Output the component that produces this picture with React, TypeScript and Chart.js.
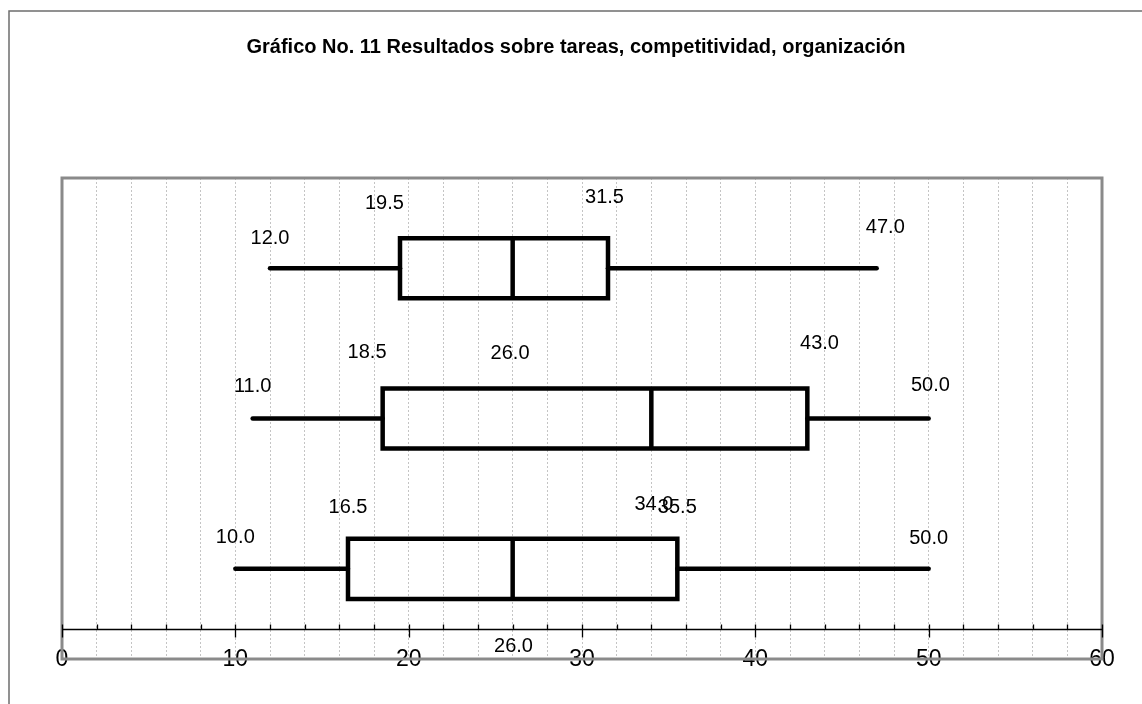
import React, { useEffect, useRef } from 'react';
import { Chart, registerables } from 'chart.js';

Chart.register(...registerables);

// ---- data ----
const titleText = 'Gráfico No. 11 Resultados sobre tareas, competitividad, organización';
const rowPositions = [1, 2, 3];
const minValues = [12, 11, 10];
const q1Values = [19.5, 18.5, 16.5];
const medianValues = [26, 34, 26];
const q3Values = [31.5, 43, 35.5];
const maxValues = [47, 50, 50];

// data labels as they appear in the original (value text, anchored in data units)
const labelValues = [12, 19.5, 31.5, 47, 18.5, 26, 43, 11, 50, 16.5, 34, 35.5, 10, 50, 26];
const labelXs = [12, 18.6, 31.3, 47.5, 17.6, 25.85, 43.7, 11, 50.1, 16.5, 34.15, 35.5, 10, 50, 26.05];
const labelYs = [0.8, 0.57, 0.53, 0.73, 1.56, 1.57, 1.5, 1.79, 1.78, 2.59, 2.57, 2.59, 2.79, 2.8, 3.52];

const xTickLabels = [0, 10, 20, 30, 40, 50, 60];
const axisLineY = 3.4;
const BOX_HALF = 0.2;

const FONT = '"Liberation Sans", Arial, sans-serif';

const frameAndLabels = {
  id: 'frameAndLabels',
  beforeDraw(chart: any) {
    const ctx = chart.ctx;
    ctx.save();
    ctx.fillStyle = '#fff';
    ctx.fillRect(0, 0, chart.width, chart.height);
    ctx.strokeStyle = '#6e6e6e';
    ctx.lineWidth = 1.5;
    ctx.beginPath();
    ctx.moveTo(9, chart.height);
    ctx.lineTo(9, 11);
    ctx.lineTo(chart.width, 11);
    ctx.stroke();
    ctx.restore();
  },
  beforeDatasetsDraw(chart: any) {
    const ctx = chart.ctx;
    const { left, right, top, bottom } = chart.chartArea;
    const xs = chart.scales.x;
    const ys = chart.scales.y;
    ctx.save();
    // plot frame
    ctx.strokeStyle = '#8a8a8a';
    ctx.lineWidth = 3;
    ctx.strokeRect(left, top, right - left, bottom - top);
    // axis line with ticks
    const ay = Math.round(ys.getPixelForValue(axisLineY)) + 0.5;
    ctx.strokeStyle = '#000';
    ctx.lineWidth = 1.3;
    ctx.beginPath();
    ctx.moveTo(left, ay);
    ctx.lineTo(right, ay);
    xs.ticks.forEach((t: any) => {
      const px = Math.round(xs.getPixelForValue(t.value)) + 0.5;
      const major = xTickLabels.includes(t.value);
      ctx.moveTo(px, ay - 5);
      ctx.lineTo(px, major ? ay + 8 : ay);
    });
    ctx.stroke();
    ctx.restore();
  },
  afterDatasetsDraw(chart: any) {
    const ctx = chart.ctx;
    const xs = chart.scales.x;
    const ys = chart.scales.y;
    ctx.save();
    ctx.fillStyle = '#000';
    ctx.font = `20px ${FONT}`;
    ctx.textAlign = 'center';
    ctx.textBaseline = 'middle';
    labelValues.forEach((v, i) => {
      ctx.fillText(v.toFixed(1), xs.getPixelForValue(labelXs[i]), ys.getPixelForValue(labelYs[i]));
    });
    ctx.restore();
  },
};

function buildDatasets() {
  const ds: any[] = [];
  const base = { showLine: true, pointRadius: 0, borderColor: '#000', backgroundColor: '#000', fill: false };
  rowPositions.forEach((r, i) => {
    ds.push({
      ...base,
      borderWidth: 4.5,
      borderCapStyle: 'round',
      data: [{ x: minValues[i], y: r }, { x: q1Values[i], y: r }],
    });
    ds.push({
      ...base,
      borderWidth: 4.5,
      borderCapStyle: 'round',
      data: [{ x: q3Values[i], y: r }, { x: maxValues[i], y: r }],
    });
    ds.push({
      ...base,
      borderWidth: 4.5,
      borderCapStyle: 'square',
      borderJoinStyle: 'miter',
      data: [
        { x: q1Values[i], y: r - BOX_HALF },
        { x: q3Values[i], y: r - BOX_HALF },
        { x: q3Values[i], y: r + BOX_HALF },
        { x: q1Values[i], y: r + BOX_HALF },
        { x: q1Values[i], y: r - BOX_HALF },
      ],
    });
    ds.push({
      ...base,
      borderWidth: 4.5,
      borderCapStyle: 'butt',
      data: [{ x: medianValues[i], y: r - BOX_HALF }, { x: medianValues[i], y: r + BOX_HALF }],
    });
  });
  return ds;
}

export default function App() {
  const ref = useRef<HTMLCanvasElement | null>(null);
  useEffect(() => {
    if (!ref.current) return;
    const chart = new Chart(ref.current, {
      type: 'scatter',
      data: { datasets: buildDatasets() },
      plugins: [frameAndLabels],
      options: {
        responsive: false,
        animation: false,
        events: [],
        layout: { padding: { left: 50, right: 40, top: 0, bottom: 0 } },
        plugins: {
          legend: { display: false },
          tooltip: { enabled: false },
          title: {
            display: true,
            text: titleText,
            color: '#000',
            font: { family: FONT, size: 20, weight: 'bold', lineHeight: 1.2 },
            padding: { top: 35, bottom: 119 },
          },
        },
        scales: {
          x: {
            type: 'linear',
            min: 0,
            max: 60,
            position: 'bottom',
            afterFit: (s: any) => {
              s.height = 45;
            },
            ticks: {
              stepSize: 2,
              autoSkip: false,
              maxRotation: 0,
              mirror: true,
              padding: -12,
              color: '#000',
              font: { family: FONT, size: 23, lineHeight: 1 },
              callback: (v: any) => (xTickLabels.includes(v) ? String(v) : ''),
            },
            grid: { color: '#c4c4c4', lineWidth: 1, drawTicks: false },
            border: { display: false, dash: [2, 2] },
          },
          y: {
            type: 'linear',
            min: 0.4,
            max: 3.6,
            reverse: true,
            display: true,
            afterFit: (s: any) => {
              s.width = 12;
            },
            ticks: { display: false },
            grid: { display: false },
            border: { display: false },
          },
        },
      } as any,
    });
    return () => chart.destroy();
  }, []);
  return (
    <div style={{ position: 'absolute', left: 0, top: 0, width: 1142, height: 704 }}>
      <canvas ref={ref} width={1142} height={704} style={{ display: 'block' }} />
    </div>
  );
}
